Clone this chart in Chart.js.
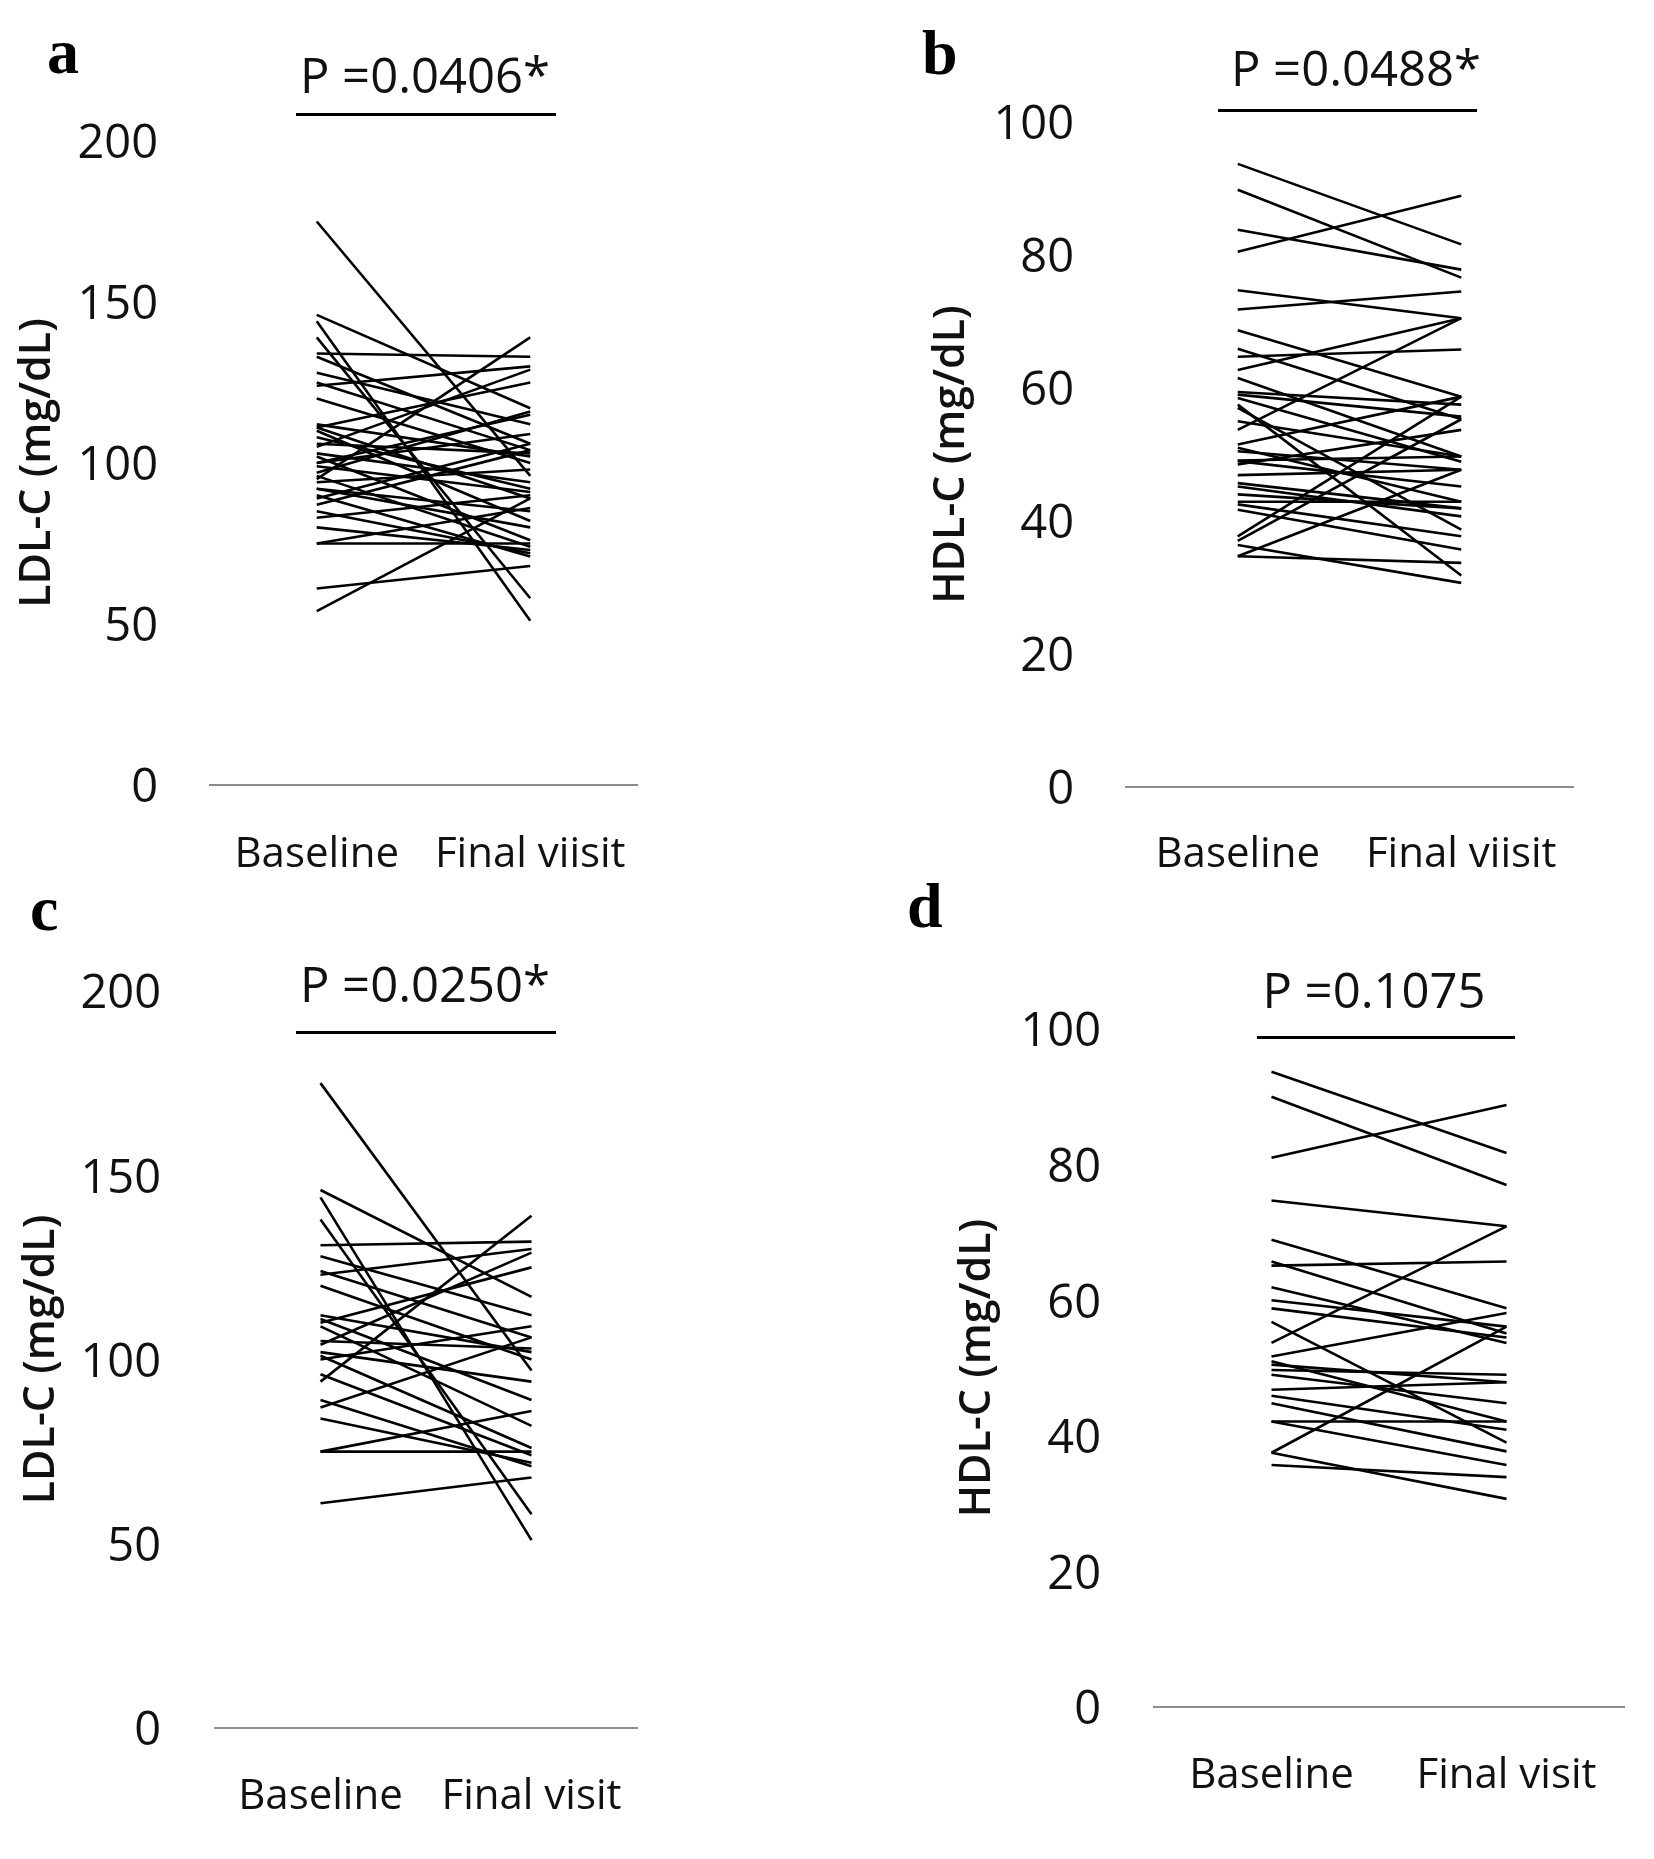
<!DOCTYPE html>
<html><head><meta charset="utf-8">
<script src="https://cdn.jsdelivr.net/npm/chart.js@4.4.1/dist/chart.umd.min.js"></script>
<style>
html,body{margin:0;padding:0;background:#fff;}
#page{position:relative;width:1654px;height:1859px;overflow:hidden;background:#fff;}
#page canvas{position:absolute;}
.letter{position:absolute;font-family:'Liberation Serif','Times New Roman',serif;font-weight:bold;font-size:64px;line-height:1;color:#000;}
.ptext{position:absolute;width:400px;text-align:center;font-family:'Open Sans',sans-serif;font-size:49px;height:60px;line-height:60px;color:#111;white-space:nowrap;}
.pline{position:absolute;height:2.5px;background:#000;}
</style></head><body><div id="page"></div>
<script>
// ---------- data ----------
const categoriesTop = ['Baseline', 'Final viisit'];
const categoriesBottom = ['Baseline', 'Final visit'];
const ldlTicks = [0, 50, 100, 150, 200];
const hdlTicks = [0, 20, 40, 60, 80, 100];
const panelLetters = ['a', 'b', 'c', 'd'];
const pValueTexts = ['P =0.0406*', 'P =0.0488*', 'P =0.0250*', 'P =0.1075'];
const ldlTitle = 'LDL-C (mg/dL)';
const hdlTitle = 'HDL-C (mg/dL)';

const ldlBaselineA = [175, 146, 144, 139, 134, 133, 128, 125, 124, 120, 111, 111, 110, 106, 105, 103, 102, 100, 99, 96, 95, 94, 92, 90, 89, 87, 85, 83, 80, 75, 75, 61, 54, 100, 112, 108, 97, 92];
const ldlFinalA    = [96, 117, 51, 58, 133, 106, 112, 104, 130, 100, 89, 125, 82, 103, 129, 94, 76, 115, 91, 74, 139, 98, 85, 71, 106, 104, 72, 90, 73, 75, 86, 68, 89, 109, 102, 92, 116, 80];

const hdlBaselineB = [93.7, 89.8, 83.8, 80.5, 74.7, 71.8, 68.7, 65.9, 64.7, 62.7, 61.5, 59.4, 59.0, 58.5, 57.5, 57.0, 55.0, 53.7, 51.5, 51.0, 50.5, 49.1, 49.0, 48.5, 46.9, 45.7, 45.2, 44.0, 42.9, 42.5, 41.7, 37.7, 37.0, 36.4, 34.7, 34.7];
const hdlFinalB    = [81.6, 76.6, 77.8, 88.9, 70.5, 74.5, 58.7, 55.3, 65.8, 70.5, 49.7, 57.5, 55.7, 48.9, 31.8, 38.7, 49.7, 70.5, 58.7, 42.9, 47.7, 49.7, 45.2, 53.7, 47.7, 41.9, 40.7, 41.9, 42.9, 37.7, 35.7, 58.7, 55.3, 30.7, 33.7, 47.7];

const ldlBaselineC = [175, 146, 144, 138, 131, 128, 124, 123, 120, 111, 110, 109, 105, 104, 102, 101, 96, 94, 89, 87, 84, 75, 75, 61, 100, 112];
const ldlFinalC    = [97, 117, 51, 58, 132, 112, 106, 130, 100, 89, 125, 82, 103, 129, 94, 76, 74, 139, 71, 106, 72, 75, 86, 68, 109, 102];

const hdlBaselineD = [93.7, 90.0, 81.0, 74.7, 68.9, 65.7, 65.1, 61.9, 60.0, 58.8, 56.8, 53.7, 51.7, 51.0, 50.5, 49.7, 49.0, 46.8, 45.9, 44.8, 42.1, 42.1, 37.5, 37.5, 35.7];
const hdlFinalD    = [81.7, 77.0, 88.8, 70.9, 58.8, 55.1, 65.7, 53.7, 56.1, 54.5, 39.0, 70.9, 58.1, 42.1, 47.9, 49.0, 44.8, 47.9, 40.9, 37.7, 42.1, 35.7, 56.1, 30.7, 33.9];

// ---------- layout / style ----------
const panels = [
  {baseline: ldlBaselineA, final: ldlFinalA, cats: categoriesTop, ticks: ldlTicks, title: ldlTitle,
   box: {left: 0, top: 0, w: 827, h: 930}, yW: 210, pad: {left: 0, right: 190, top: 141, bottom: 45},
   titlePad: 12, tickPad: 52, xPad: 45,
   letterPos: [47, 20], pPos: [425, 44], pLine: [296, 113, 260]},
  {baseline: hdlBaselineB, final: hdlFinalB, cats: categoriesTop, ticks: hdlTicks, title: hdlTitle,
   box: {left: 827, top: 0, w: 827, h: 930}, yW: 299, pad: {left: 0, right: 81, top: 122, bottom: 43},
   titlePad: 99, tickPad: 52, xPad: 43,
   letterPos: [922, 21], pPos: [1356, 37], pLine: [1218, 109, 259]},
  {baseline: ldlBaselineC, final: ldlFinalC, cats: categoriesBottom, ticks: ldlTicks, title: ldlTitle,
   box: {left: 0, top: 930, w: 827, h: 929}, yW: 215, pad: {left: 0, right: 190, top: 61, bottom: 31},
   titlePad: 16, tickPad: 54, xPad: 44,
   letterPos: [30, 877], pPos: [425, 953], pLine: [296, 1031, 260]},
  {baseline: hdlBaselineD, final: hdlFinalD, cats: categoriesBottom, ticks: hdlTicks, title: hdlTitle,
   box: {left: 827, top: 930, w: 827, h: 929}, yW: 327, pad: {left: 0, right: 30, top: 99, bottom: 52},
   titlePad: 125, tickPad: 53, xPad: 44,
   letterPos: [907, 874], pPos: [1374, 959], pLine: [1257, 1036, 258]}
];

const page = document.getElementById('page');

panels.forEach((p, idx) => {
  const cv = document.createElement('canvas');
  cv.width = p.box.w; cv.height = p.box.h;
  cv.style.left = p.box.left + 'px'; cv.style.top = p.box.top + 'px';
  cv.style.width = p.box.w + 'px'; cv.style.height = p.box.h + 'px';
  page.appendChild(cv);

  const datasets = p.baseline.map((b, i) => ({
    data: [b, p.final[i]],
    borderColor: '#000', borderWidth: 2.6, pointRadius: 0, tension: 0, fill: false
  }));
  const tickVals = p.ticks;

  new Chart(cv.getContext('2d'), {
    type: 'line',
    data: {labels: p.cats, datasets},
    options: {
      responsive: false, animation: false, devicePixelRatio: 1,
      layout: {padding: p.pad},
      plugins: {legend: {display: false}, tooltip: {enabled: false}, title: {display: false}},
      scales: {
        x: {
          offset: true,
          grid: {display: false, drawTicks: false},
          border: {display: true, color: '#8c8c8c', width: 2},
          ticks: {color: '#111', font: {family: 'Open Sans', size: 42}, padding: p.xPad, maxRotation: 0, autoSkip: false},
          afterFit: s => { s.height = 100; }
        },
        y: {
          min: tickVals[0], max: tickVals[tickVals.length - 1],
          grid: {display: false, drawTicks: false},
          border: {display: false},
          ticks: {color: '#111', font: {family: 'Open Sans', size: 47}, padding: p.tickPad, labelOffset: 4},
          afterBuildTicks: s => { s.ticks = tickVals.map(v => ({value: v})); },
          title: {display: true, text: p.title, color: '#111',
                  font: {family: 'Open Sans', size: 43, weight: '600'},
                  padding: {top: p.titlePad, bottom: 0}},
          afterFit: s => { s.width = p.yW; s.paddingTop = 0; s.paddingBottom = 0; }
        }
      }
    }
  });

  const L = document.createElement('div');
  L.className = 'letter'; L.textContent = panelLetters[idx];
  L.style.left = p.letterPos[0] + 'px'; L.style.top = p.letterPos[1] + 'px';
  page.appendChild(L);

  const T = document.createElement('div');
  T.className = 'ptext'; T.textContent = pValueTexts[idx];
  T.style.left = (p.pPos[0] - 200) + 'px'; T.style.top = p.pPos[1] + 'px';
  page.appendChild(T);

  const ln = document.createElement('div');
  ln.className = 'pline';
  ln.style.left = p.pLine[0] + 'px'; ln.style.top = p.pLine[1] + 'px'; ln.style.width = p.pLine[2] + 'px';
  page.appendChild(ln);
});
</script>
</body></html>
